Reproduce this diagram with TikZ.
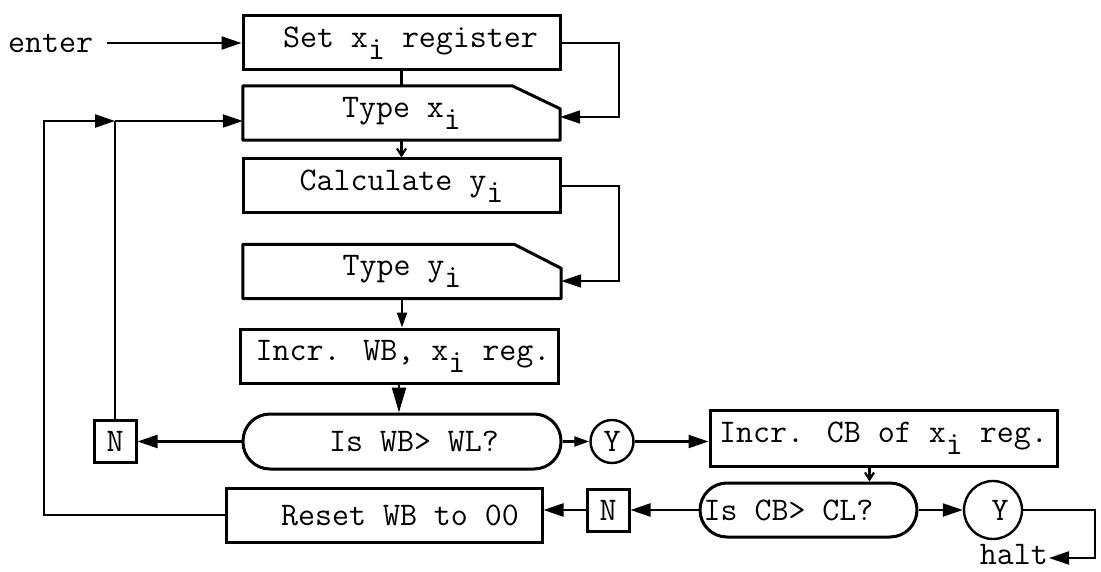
\documentclass[tikz,border=0pt]{standalone}
\usepackage{fontspec}
\usetikzlibrary{arrows.meta}
\newcommand{\lowi}{\raisebox{-0.36em}{i}}
\begin{document}
\begin{tikzpicture}[x=1pt,y=-1pt,
  txt/.style={font=\fontsize{33}{35}\selectfont\ttfamily},
  box/.style={txt, draw, line width=3pt, minimum height=54pt, inner sep=2pt},
  plain/.style={txt, minimum height=54pt, inner sep=2pt},
  outline/.style={line width=3pt, line join=round},
  stad/.style={box, rounded corners=27pt},
  sbox/.style={box, minimum width=42pt, minimum height=42pt, inner sep=0pt},
  ybox/.style={txt, draw, circle, line width=2.4pt, inner sep=0pt},
  conn/.style={line width=2.2pt},
  big/.style={conn, -{Triangle[length=20pt,width=13pt]}},
  huge/.style={conn, -{Triangle[length=25pt,width=14pt]}},
  mid/.style={conn, -{Triangle[length=15pt,width=10pt]}},
  small/.style={conn, -{Straight Barb[length=7pt,width=9pt]}}]
\useasboundingbox (0,0) rectangle (1101,572);

\node[txt, anchor=west, inner sep=2pt] (enter) at (6,43) {enter};
\node[box, minimum width=317pt] (set) at (401.5,43) {\hspace*{18pt}Set x\lowi{} register};
\node[plain, minimum width=317pt] (typex) at (401.5,113) {Type x\lowi};
\draw[outline] (typex.south west) -- (typex.north west) -- ([xshift=-48pt]typex.north east) -- ([yshift=-23pt]typex.north east) -- (typex.south east) -- cycle;
\node[box, minimum width=317pt] (calc) at (401.5,186) {Calculate y\lowi};
\node[plain, minimum width=318pt] (typey) at (402,271.5) {Type y\lowi};
\draw[outline] (typey.south west) -- (typey.north west) -- ([xshift=-47pt]typey.north east) -- ([yshift=-24pt]typey.north east) -- (typey.south east) -- cycle;
\node[box, minimum width=318pt] (incrwb) at (399,356) {\hspace*{8pt}Incr. WB, x\lowi{} reg.};
\node[stad, minimum width=318pt, minimum height=55pt] (iswb) at (402,441.5) {\hspace*{24pt}Is WB> WL?};
\node[box, minimum width=316pt] (reset) at (384,515) {\hspace*{32pt}Reset WB to 00};
\node[sbox] (n1) at (115,441.5) {N};
\node[ybox, minimum size=43pt] (y1) at (612,441.5) {Y};
\node[box, minimum width=347pt, minimum height=56pt] (incrcb) at (883.5,438) {Incr. CB of x\lowi{} reg.};
\node[stad, minimum width=217pt] (iscb) at (808.5,510) {Is CB> CL?\hspace*{40pt}};
\node[sbox] (n2) at (608,510) {N};
\node[ybox, minimum size=58pt] (y2) at (993,510) {\hspace*{14pt}Y};
\node[txt, anchor=east, inner sep=1pt] (halt) at (1049,555) {halt};

\coordinate (r1) at (619,117);
\coordinate (r2) at (619,281);
\coordinate (j) at (115,121);
\coordinate (o) at (44,121);
\coordinate (r3) at (1095,558);

\draw[big, shorten <=12pt] (enter.east) -- (enter.east -| set.west);
\draw[conn] (set.south) -- (typex.north);
\draw[big] (set.east) -| (r1) -- (r1 -| typex.east);
\draw[small] (typex.south) -- (calc.north);
\draw[big] (calc.east) -| (r2) -- (r2 -| typey.east);
\draw[mid] (typey.south) -- (typey.south |- incrwb.north);
\draw[huge] (incrwb.south) -- (incrwb.south |- iswb.north);
\draw[big] (iswb.west) -- (n1.east);
\draw[conn] (n1.north) -- (j);
\draw[big] (j) -- (j -| typex.west);
\draw[big] (reset.west) -| (o) -- (j);
\draw[mid] (iswb.east) -- (y1.west);
\draw[big] (y1.east) -- (y1.east -| incrcb.west);
\draw[small] ([xshift=-14pt]incrcb.south) -- ([xshift=-14pt]incrcb.south |- iscb.north);
\draw[big] (iscb.west) -- (n2.east);
\draw[big] (n2.west) -- (n2.west -| reset.east);
\draw[big] (iscb.east) -- (y2.west);
\draw[big] (y2.east) -| (r3) -- (r3 -| halt.east);
\end{tikzpicture}
\end{document}
